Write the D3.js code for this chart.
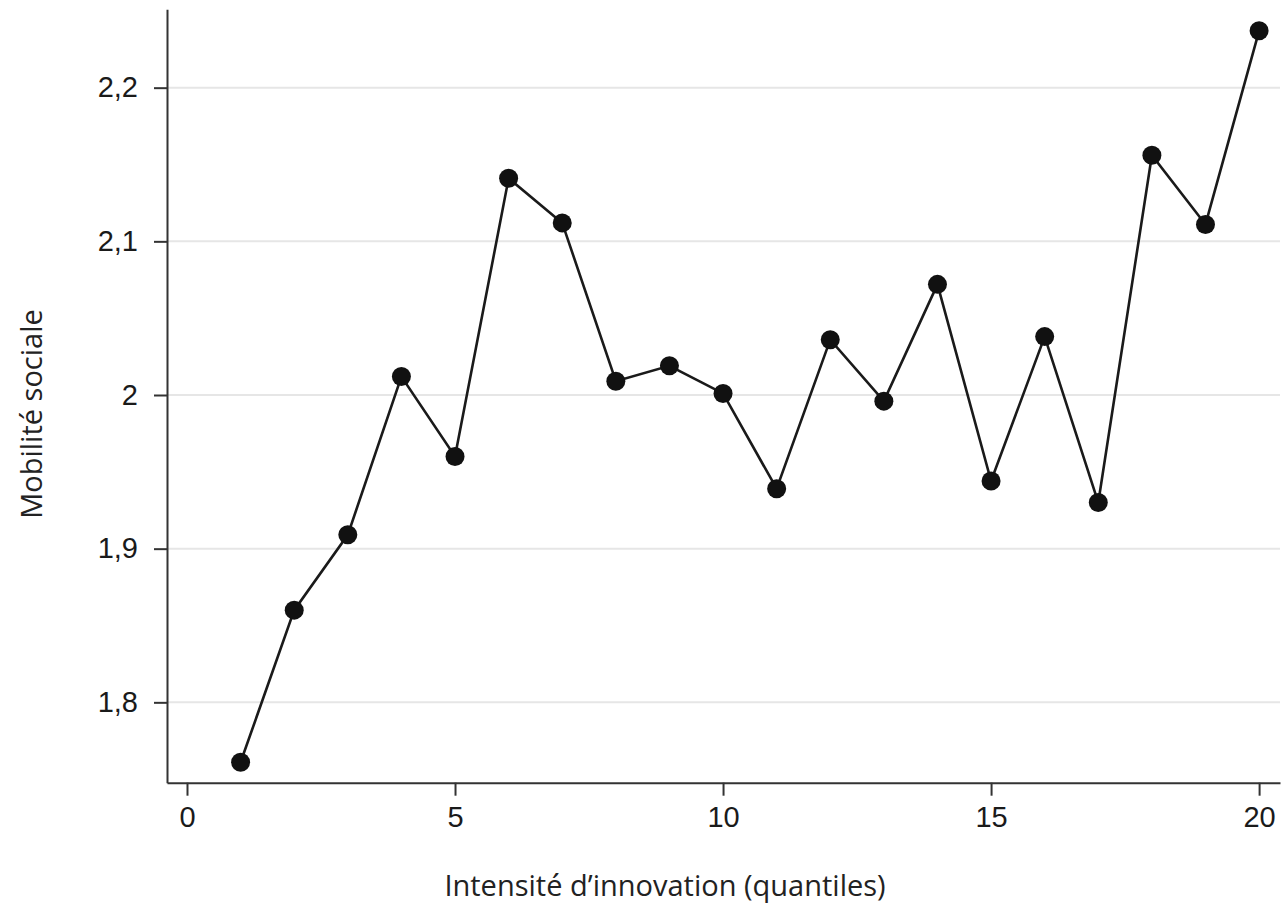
<!DOCTYPE html>
<html>
<head>
<meta charset="utf-8">
<script src="https://cdn.jsdelivr.net/npm/d3@7"></script>
<style>
  html, body { margin: 0; padding: 0; background: #fff; }
  svg { display: block; }
</style>
</head>
<body>
<svg id="chart" width="1285" height="906"></svg>
<script>
// ---- data ----
const quantiles = [1,2,3,4,5,6,7,8,9,10,11,12,13,14,15,16,17,18,19,20];
const mobilite = [1.761,1.860,1.909,2.012,1.960,2.141,2.112,2.009,2.019,2.001,
                  1.939,2.036,1.996,2.072,1.944,2.038,1.930,2.156,2.111,2.237];
const xTicks = [0,5,10,15,20];
const yTicks = [1.8,1.9,2.0,2.1,2.2];
const yTickLabels = ["1,8","1,9","2","2,1","2,2"];
const xTitle = "Intensité d’innovation (quantiles)";
const yTitle = "Mobilité sociale";

// ---- layout ----
const svg = d3.select("#chart");
const x = d3.scaleLinear().domain([-0.373, 20.39]).range([167, 1280]);
const y = d3.scaleLinear().domain([1.7477, 2.251]).range([782.7, 9.3]);

const tickFont = "'Liberation Sans', Arial, Helvetica, sans-serif";
const titleFont = "'Open Sans', 'Noto Sans', sans-serif";

// gridlines
svg.append("g").selectAll("line").data(yTicks).join("line")
  .attr("x1", x.range()[0]).attr("x2", x.range()[1])
  .attr("y1", d => y(d)).attr("y2", d => y(d))
  .attr("stroke", "#e6e6e6").attr("stroke-width", 2);

// y axis
const yAxis = svg.append("g")
  .attr("transform", `translate(${x.range()[0]},0)`)
  .call(d3.axisLeft(y).tickValues(yTicks)
        .tickFormat((d,i) => yTickLabels[i])
        .tickSize(13).tickSizeOuter(0).tickPadding(16));
yAxis.select(".domain").attr("stroke", "#333").attr("stroke-width", 2);
yAxis.selectAll(".tick line").attr("stroke", "#333").attr("stroke-width", 2);
yAxis.selectAll(".tick text").attr("font-family", tickFont).attr("font-size", 29).attr("fill", "#1a1a1a");

// x axis
const xAxis = svg.append("g")
  .attr("transform", `translate(0,${y.range()[0]})`)
  .call(d3.axisBottom(x).tickValues(xTicks).tickFormat(d3.format("d"))
        .tickSize(13).tickSizeOuter(0).tickPadding(11));
xAxis.select(".domain").attr("stroke", "#333").attr("stroke-width", 2);
xAxis.selectAll(".tick line").attr("stroke", "#333").attr("stroke-width", 2);
xAxis.selectAll(".tick text").attr("font-family", tickFont).attr("font-size", 29).attr("fill", "#1a1a1a");

// line
const pts = quantiles.map((q,i) => [q, mobilite[i]]);
svg.append("path").datum(pts)
  .attr("fill", "none").attr("stroke", "#1a1a1a").attr("stroke-width", 2.6)
  .attr("d", d3.line().x(d => x(d[0])).y(d => y(d[1])));

// points
svg.append("g").selectAll("circle").data(pts).join("circle")
  .attr("cx", d => x(d[0])).attr("cy", d => y(d[1]))
  .attr("r", 9.5).attr("fill", "#111");

// titles
svg.append("text")
  .attr("x", 665).attr("y", 896)
  .attr("text-anchor", "middle")
  .attr("font-family", titleFont).attr("font-size", 29).attr("fill", "#222")
  .text(xTitle);

svg.append("text")
  .attr("transform", "translate(42,414) rotate(-90)")
  .attr("text-anchor", "middle")
  .attr("font-family", titleFont).attr("font-size", 29).attr("fill", "#222")
  .text(yTitle);
</script>
</body>
</html>
